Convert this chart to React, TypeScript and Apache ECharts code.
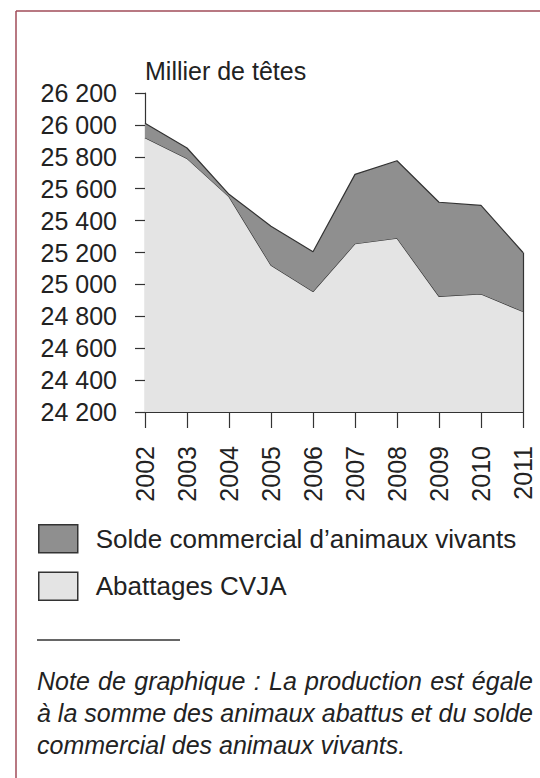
import React, { useEffect, useRef } from "react";
import * as echarts from "echarts";

const years = ["2002", "2003", "2004", "2005", "2006", "2007", "2008", "2009", "2010", "2011"];
const abattages = [25920, 25790, 25550, 25120, 24955, 25255, 25290, 24925, 24940, 24830];
const solde = [90, 65, 15, 245, 250, 435, 485, 590, 555, 370];
const yMin = 24200;
const yMax = 26200;
const yStep = 200;
const unitLabel = "Millier de têtes";
const seriesNames = ["Solde commercial d’animaux vivants", "Abattages CVJA"];
const noteLines = [
  "Note de graphique : La production est égale",
  "à la somme des animaux abattus et du solde",
  "commercial des animaux vivants.",
];

const FONT = "'Liberation Sans', Arial, Helvetica, sans-serif";
const TXT = "#222";
const NOTE_SIZE = 25;
const NOTE_LEFT = 37;
const NOTE_RIGHT = 533;

function noteGraphics(): any[] {
  const out: any[] = [];
  let ctx: CanvasRenderingContext2D | null = null;
  try {
    ctx = document.createElement("canvas").getContext("2d");
    if (ctx) ctx.font = `italic ${NOTE_SIZE}px 'Liberation Sans', Arial, sans-serif`;
  } catch (e) {
    ctx = null;
  }
  noteLines.forEach((line, i) => {
    const y = 681 + i * 32;
    const style = {
      fontSize: NOTE_SIZE,
      fontStyle: "italic",
      fill: TXT,
      fontFamily: FONT,
      verticalAlign: "middle",
    };
    const words = line.split(" ");
    const isLast = i === noteLines.length - 1;
    if (!ctx || isLast || words.length < 2) {
      out.push({ type: "text", x: NOTE_LEFT, y, style: { ...style, text: line } });
      return;
    }
    const widths = words.map((w) => ctx!.measureText(w).width);
    const total = widths.reduce((a, b) => a + b, 0);
    const gap = (NOTE_RIGHT - NOTE_LEFT - total) / (words.length - 1);
    let x = NOTE_LEFT;
    words.forEach((w, k) => {
      out.push({ type: "text", x, y, style: { ...style, text: w } });
      x += widths[k] + gap;
    });
  });
  return out;
}

export default function App() {
  const ref = useRef<HTMLDivElement>(null);
  useEffect(() => {
    if (!ref.current) return;
    const chart = echarts.init(ref.current, null, { renderer: "svg" });
    const lastIdx = years.length - 1;
    const fmt = (v: number) => String(v).replace(/\B(?=(\d{3})+(?!\d))/g, " ");
    chart.setOption({
      animation: false,
      backgroundColor: "#fff",
      textStyle: { fontFamily: FONT },
      grid: { left: 145, right: 17, top: 93, bottom: 366, containLabel: false },
      legend: {
        orient: "vertical",
        left: 38,
        top: 524,
        padding: 0,
        itemWidth: 39,
        itemHeight: 28,
        itemGap: 18,
        icon: "rect",
        data: [seriesNames[0], seriesNames[1]],
        textStyle: { fontSize: 26, color: TXT, fontFamily: FONT, padding: [0, 0, 0, 13] },
        itemStyle: { borderColor: "#333", borderWidth: 1.5 },
      },
      xAxis: {
        type: "category",
        data: years,
        boundaryGap: false,
        axisLine: { lineStyle: { color: "#333", width: 1.2 } },
        axisTick: { show: true, length: 16, lineStyle: { color: "#333", width: 1.2 } },
        axisLabel: { rotate: 90, margin: 34, fontSize: 25, color: TXT, fontFamily: FONT },
        splitLine: { show: false },
      },
      yAxis: {
        type: "value",
        min: yMin,
        max: yMax,
        interval: yStep,
        axisLine: { show: true, lineStyle: { color: "#333", width: 1.2 } },
        axisTick: { show: true, length: 10, lineStyle: { color: "#333", width: 1.2 } },
        axisLabel: { margin: 28, fontSize: 25, color: TXT, fontFamily: FONT, formatter: fmt },
        splitLine: { show: false },
      },
      series: [
        {
          name: seriesNames[1],
          type: "line",
          stack: "total",
          data: abattages,
          symbol: "none",
          lineStyle: { color: "#333", width: 1.2 },
          itemStyle: { color: "#e4e4e4" },
          areaStyle: { color: "#e4e4e4", opacity: 1 },
          z: 2,
        },
        {
          name: seriesNames[0],
          type: "line",
          stack: "total",
          data: solde,
          symbol: "none",
          lineStyle: { color: "#333", width: 1.2 },
          itemStyle: { color: "#8f8f8f" },
          areaStyle: { color: "#8f8f8f", opacity: 1 },
          z: 3,
          markLine: {
            silent: true,
            symbol: "none",
            label: { show: false },
            lineStyle: { color: "#333", width: 1.2, type: "solid" },
            data: [
              [
                { coord: [years[lastIdx], yMin] },
                { coord: [years[lastIdx], abattages[lastIdx] + solde[lastIdx]] },
              ],
            ],
          },
        },
      ],
      graphic: [
        { type: "line", shape: { x1: 16, y1: 11, x2: 540, y2: 11 }, style: { stroke: "#a04b58", lineWidth: 1.5 } },
        { type: "line", shape: { x1: 16, y1: 11, x2: 16, y2: 778 }, style: { stroke: "#a04b58", lineWidth: 1.5 } },
        {
          type: "text",
          x: 145,
          y: 71,
          style: { text: unitLabel, fontSize: 25, fill: TXT, fontFamily: FONT, verticalAlign: "middle" },
        },
        { type: "line", shape: { x1: 37, y1: 640, x2: 180, y2: 640 }, style: { stroke: "#333", lineWidth: 1.5 } },
        ...noteGraphics(),
      ],
    });
    return () => chart.dispose();
  }, []);
  return (
    <div
      ref={ref}
      style={{ position: "absolute", left: 0, top: 0, width: 540, height: 778 }}
    />
  );
}
